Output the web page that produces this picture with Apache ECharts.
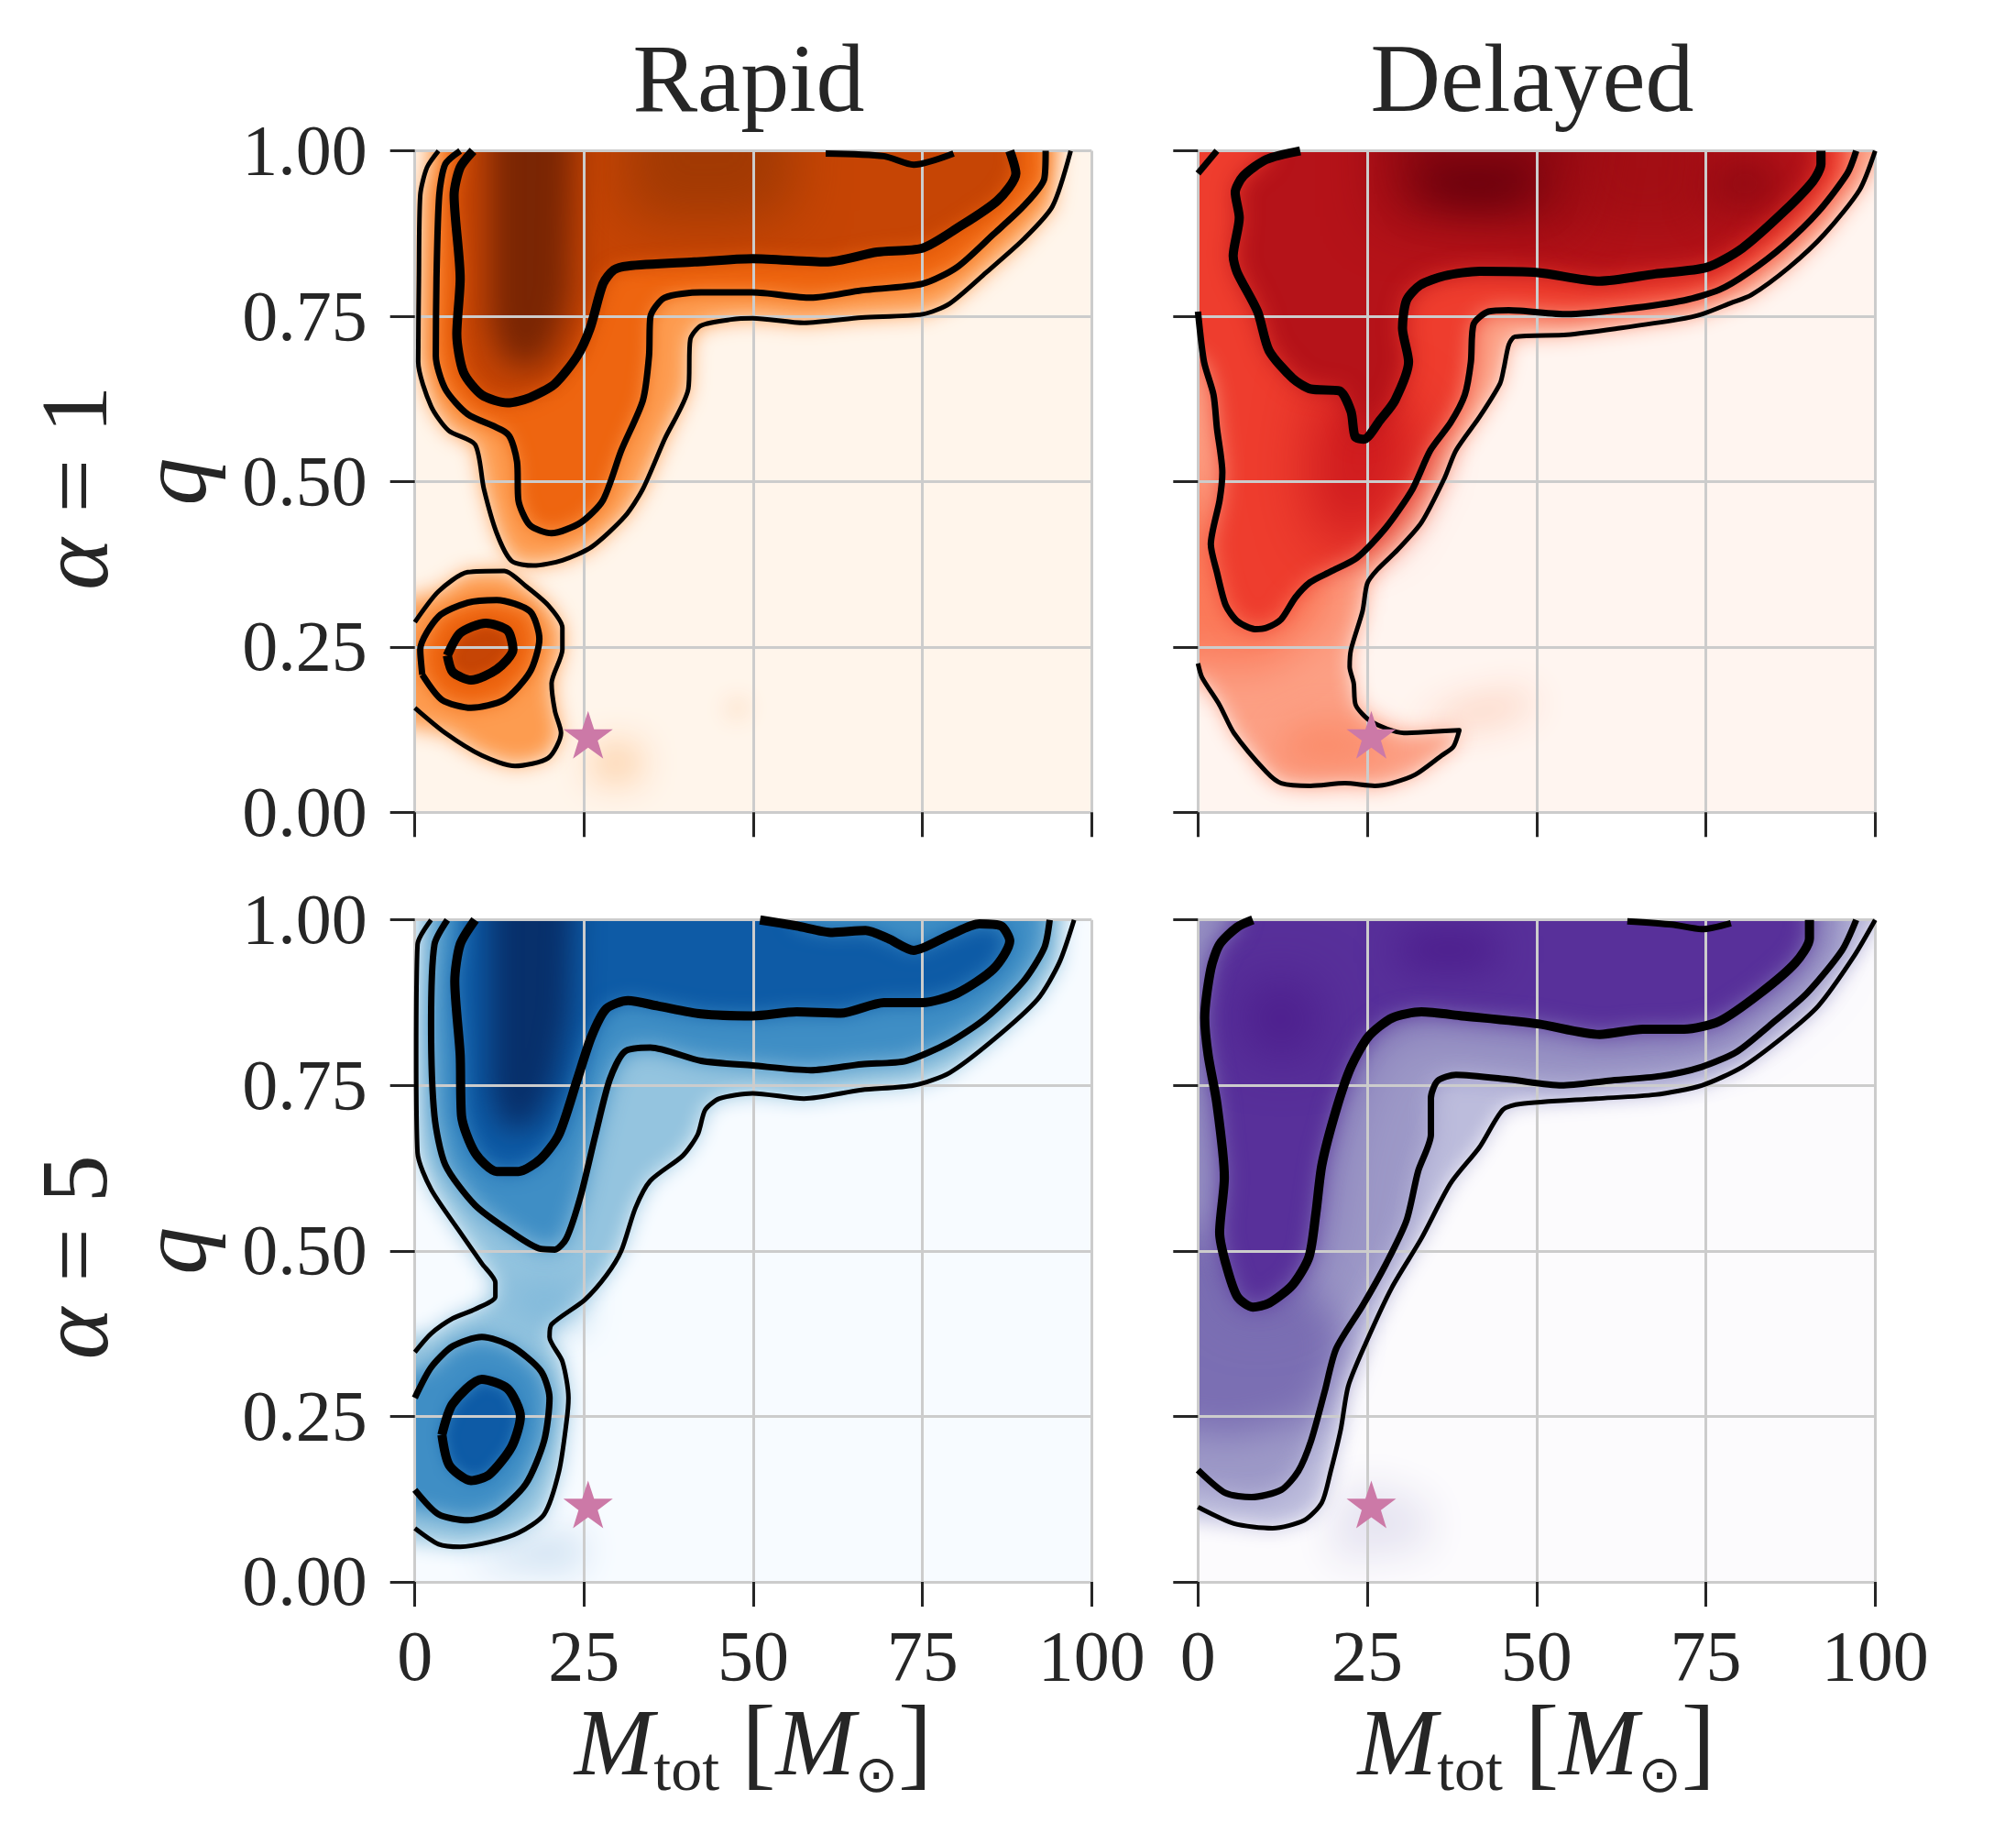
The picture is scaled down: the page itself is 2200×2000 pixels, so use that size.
<!DOCTYPE html>
<html><head><meta charset="utf-8"><style>html,body{margin:0;padding:0;background:#fff}#c{width:2200px;height:2000px}</style>
<script src="https://cdn.jsdelivr.net/npm/echarts@6/dist/echarts.min.js"></script></head><body><div id="c"></div>
<script>
// ---- axes and labels
const massTicks = [0, 25, 50, 75, 100];
const ratioTicks = [0, 0.25, 0.5, 0.75, 1];
const columnTitles = ['Rapid', 'Delayed'];
const rowLabels = ['1', '5'];
const starPoint = [25.6, 0.117];
const topLeft = [[0,1]];

// ---- contours: [Mtot, q]
const r1Outer = [[3.5,1],[1.8,.975],[.8,.933],[.6,.807],[.5,.681],[2.4,.614],[5,.577],[8.9,.556],[10.2,.489],[12.1,.422],[14.3,.38],[17.5,.373],[21.8,.381],[26.1,.401],[31,.447],[33.7,.489],[36.9,.564],[40.4,.64],[40.7,.715],[42.3,.736],[46.7,.745],[49.9,.747],[57.5,.74],[66,.748],[75,.753],[79,.769],[84.4,.816],[89.9,.866],[94.2,.916],[96.9,1]];
const r1Mid = [[6.7,1],[4.5,.98],[3.6,.933],[3.2,.807],[3.1,.69],[4.5,.64],[7.8,.602],[13.7,.572],[15.1,.53],[15.3,.472],[17,.434],[20.2,.422],[24.5,.438],[27.8,.472],[30.5,.547],[33.7,.623],[34.6,.69],[34.8,.749],[36.9,.778],[42.3,.786],[49.9,.786],[58.5,.778],[66,.789],[75,.799],[80.1,.824],[85.5,.874],[89.9,.916],[93,.958],[93.2,1]];
const r1Thick = [[8.6,1],[6.7,.975],[5.8,.933],[6.7,.807],[6.2,.723],[7.2,.665],[9.9,.631],[13.7,.619],[17,.627],[20.7,.648],[24,.69],[25.9,.732],[27.8,.799],[29.4,.82],[31.5,.826],[41.3,.832],[49.9,.837],[60.7,.832],[68.3,.847],[75,.853],[80.1,.883],[86.1,.925],[88.8,.966],[87.9,1]];
const r1TopPatch = [[60.7,.996],[69.3,.992],[73.7,.979],[79.6,.996]];
const r1LowOuter = [[0,.2875],[3.5,.334],[7.8,.363],[13.2,.365],[16.4,.342],[19.7,.313],[21.8,.279],[21.8,.246],[20.2,.195],[20.7,.153],[21.6,.12],[19.7,.082],[14.8,.07],[9.9,.086],[4.5,.12],[0,.158]];
const r1LowMid = [[1.1,.208],[.8,.246],[3.5,.296],[7.8,.317],[12.1,.321],[17,.304],[18.4,.262],[17,.212],[13.2,.17],[8.3,.158],[4,.17],[1.1,.208]];
const r1LowThick = [[4.8,.237],[6.7,.271],[10.5,.286],[13.7,.275],[14.5,.246],[12.1,.216],[8.3,.2],[5.6,.212],[4.8,.237]];

const d1Outer = [[100,1],[97.7,.941],[92.5,.874],[87.3,.824],[81.7,.782],[78.7,.77],[74.4,.753],[70.9,.745],[62.3,.732],[54.5,.722],[46.8,.719],[45.9,.707],[45.2,.673],[44.6,.648],[41.6,.598],[38.1,.547],[36.4,.505],[33,.438],[29.5,.397],[26.5,.367],[25,.346],[24.3,.304],[22.6,.246],[22.4,.22],[23,.195],[23.3,.162],[25.6,.137],[30.4,.12],[34.7,.122],[38.6,.124],[37.7,.099],[36,.086],[32.1,.057],[28.6,.044],[26.1,.04],[21.7,.044],[16.6,.04],[12.3,.044],[10.1,.061],[5.3,.12],[3.2,.162],[.6,.204],[0,.225]];
const d1Mid = [[97.2,1],[95.9,.966],[91.6,.908],[86.5,.857],[81.3,.816],[77,.79],[71.8,.774],[63.2,.761],[54.5,.753],[45.9,.759],[42.9,.757],[40.7,.738],[40.3,.681],[39.4,.631],[37.3,.589],[34.3,.547],[31.7,.489],[27.8,.431],[23.5,.385],[19.6,.364],[16.6,.348],[14.4,.325],[12.3,.292],[10.1,.279],[8.4,.277],[5.8,.289],[4.1,.313],[2.8,.363],[1.9,.405],[3.2,.472],[3.6,.514],[2.8,.581],[2.3,.631],[.9,.681],[0,.757]];
const d1Thick = [[92,1],[92,.98],[90.8,.954],[86.5,.908],[80.4,.853],[75.2,.824],[67.5,.814],[59.3,.803],[50.2,.816],[41.6,.818],[36.4,.811],[32.8,.797],[30.8,.774],[30.2,.732],[31.1,.681],[29.1,.623],[26.9,.593],[24.5,.564],[23.2,.568],[22.6,.606],[20.9,.637],[16.6,.64],[14,.656],[10.5,.698],[8.8,.757],[5.8,.816],[5.2,.841],[6.1,.899],[5.5,.937],[6.7,.962],[10.1,.987],[15.1,1]];
const d1Corner = [[0,.966],[2.8,1]];

const r5Outer = [[2.4,1],[.4,.963],[.2,.796],[.4,.648],[2.4,.593],[6.7,.528],[9.9,.481],[11.9,.452],[11.9,.431],[8.9,.412],[5.6,.398],[2.4,.375],[0,.347]];
const r5OuterB = [[0,.081],[3.5,.057],[6.7,.053],[11,.06],[15.3,.074],[19.1,.102],[21.3,.167],[22.4,.241],[22.7,.278],[21.8,.333],[19.9,.37],[20.2,.389],[25.1,.426],[28.3,.463],[30.5,.5],[32.6,.565],[34.8,.606],[39.6,.644],[41.8,.676],[42.9,.713],[45,.73],[49.9,.738],[57.5,.73],[66,.743],[73.7,.75],[79,.769],[85.5,.819],[92,.88],[95.2,.935],[97.4,1]];
const r5Mid = [[4.8,1],[2.9,.963],[2.4,.843],[2.9,.704],[4.5,.63],[8.9,.569],[14.3,.528],[18.6,.503],[20.7,.502],[22.4,.519],[24.5,.583],[26.7,.676],[28.8,.759],[31,.801],[34.8,.807],[42.3,.787],[49.9,.78],[58.5,.773],[66,.782],[72.6,.787],[79,.815],[84.4,.852],[89.9,.907],[93,.958],[93.8,1]];
const r5LowMid = [[0,.278],[2.4,.324],[5.6,.356],[9.9,.37],[14.3,.356],[18.6,.319],[19.9,.278],[19.1,.213],[16.4,.148],[12.1,.106],[7.8,.093],[3.5,.102],[0,.139]];
const r5Thick = [[8.9,1],[6.7,.963],[5.9,.907],[6.7,.796],[6.9,.704],[8.9,.648],[12.1,.62],[15.3,.62],[18.6,.639],[21.3,.676],[24,.759],[26.1,.824],[28.3,.866],[31.5,.878],[35.9,.87],[42.3,.858],[49.9,.855],[56.4,.861],[62.9,.859],[69.3,.875],[75,.875],[80.1,.889],[85.5,.926],[87.9,.968],[86.6,.991],[83.4,.994],[79,.977],[73.7,.954],[69.9,.972],[66.6,.984],[61.7,.981],[56.4,.991],[51,1]];
const r5LowThick = [[4,.222],[5.6,.269],[9.9,.306],[13.7,.292],[15.6,.25],[14.3,.204],[11,.162],[8.3,.153],[5.1,.176],[4,.222]];

const d5Outer = [[100,1],[96.8,.944],[91.6,.87],[86.5,.824],[80.4,.778],[74.4,.75],[67.5,.736],[58.8,.73],[47.6,.722],[45,.713],[41.6,.657],[37.3,.602],[33,.519],[28.6,.444],[24.8,.361],[22.2,.296],[21.1,.231],[19.6,.167],[18.3,.12],[15.7,.093],[11,.081],[5.3,.088],[0,.113]];
const d5Mid = [[97.2,1],[95.1,.954],[89.9,.889],[84.7,.843],[79.6,.801],[74.4,.778],[68.3,.764],[60.6,.757],[53.7,.75],[45.9,.759],[38.1,.766],[35.4,.757],[34.4,.731],[34.4,.676],[32.5,.62],[30.8,.546],[27.8,.481],[24.3,.417],[20.4,.352],[18.7,.287],[16.7,.213],[14.8,.167],[12.3,.139],[7.9,.128],[4.1,.134],[0,.169]];
const d5Thick = [[90.3,1],[90.3,.972],[88.2,.935],[83,.889],[77,.847],[71.8,.835],[65.7,.835],[59.3,.827],[50.2,.843],[39,.855],[33,.861],[28.7,.852],[25.2,.824],[22.6,.778],[20.4,.713],[18.3,.63],[17.4,.556],[16.4,.491],[14,.449],[10.5,.421],[8.1,.415],[5.8,.431],[4.1,.481],[3.2,.528],[3.9,.611],[2.8,.722],[1.5,.796],[1,.852],[1.9,.926],[3.2,.963],[5.8,.989],[8.1,1]];
const d5TopPatch = [[63.4,.998],[70,.993],[74.4,.986],[78.7,.995]];

// ---- soft density features inside and outside the contours
const r1Core = [[11,1],[11,.74],[13,.68],[18,.67],[21,.71],[23,.78],[24,1]];
const r1Shelf = [[31,1],[31,.9],[45,.89],[56,.91],[56,1]];
const r1BlobA = [[26,.05],[33,.05],[33,.1],[27,.1]];
const r1BlobB = [[46,.145],[49,.145],[49,.17],[46.5,.17]];
const d1PeakA = [[33,.98],[33,.93],[42,.915],[50,.935],[49,.98]];
const d1PeakWide = [[27,1],[27,.9],[55,.88],[60,1]];
const d1PeakB = [[76,.98],[76,.92],[84,.92],[87,.96],[84,.98]];
const d1Band = [[55,1],[55,.88],[76,.87],[76,1]];
const d1Body = [[18,.65],[30,.62],[33,.55],[27,.43],[19,.4],[16,.5]];
const d1Shoulder = [[0,.7],[0,.24],[10,.22],[20,.3],[20,.36],[5,.4]];
const d1Tail = [[32,.125],[42,.135],[50,.16],[48,.18],[38,.16]];
const d1Low = [[12,.07],[26,.07],[27,.115],[18,.14],[12,.11]];
const r5Core = [[11,1],[11,.74],[13,.68],[18,.69],[21,.76],[23,.86],[24,1]];
const r5Tail = [[8,.03],[24,.02],[25,.07],[14,.06]];
const r5Neck = [[13,.45],[24,.45],[24,.39],[15,.4]];
const d5PeakA = [[7,.9],[17,.9],[17,.8],[8,.8]];
const d5PeakB = [[30,.98],[44,.98],[44,.93],[30,.93]];
const d5Tail = [[20,.03],[34,.05],[34,.12],[25,.15],[20,.12]];
const d5Body = [[0,.6],[16,.45],[22,.37],[17,.25],[5,.22],[0,.25]];

// ---- style tables
const panels = [
 {row:0,col:0,bg:'#fff5eb',
  fills:[[r1Outer,'#fd9c50',22],[r1LowOuter,'#fd9c50',22],[r1BlobA,'#fdc99a',40],[r1BlobB,'#fbdcc0',24],[r1Mid,'#ee6510',20],[r1LowMid,'#ee6510',20],[r1Thick,'#c64505',20],[r1LowThick,'#c64505',14],[r1Shelf,'#a23a04',60],[r1Core,'#7a2604',34]],
  lines:[[r1Outer,5],[r1LowOuter,5],[r1Mid,7],[r1LowMid,7],[r1Thick,10],[r1LowThick,10],[r1TopPatch,7]]},
 {row:0,col:1,bg:'#fff5f0',
  fills:[[d1Tail,'#fbc8b2',40],[d1Outer.concat(topLeft),'#fca085',22],[d1Low,'#fb8a68',40],[d1Shoulder,'#fb7a5a',50],[d1Mid.concat(topLeft),'#ee3d2e',24],[d1Body,'#cf1c1f',60],[d1Thick,'#b51319',26],[d1Band,'#a30f15',60],[d1PeakWide,'#8e0912',60],[d1PeakB,'#830610',50],[d1PeakA,'#67000d',44]],
  lines:[[d1Outer,5],[d1Mid,7],[d1Thick,10],[d1Corner,7]]},
 {row:1,col:0,bg:'#f7fbff',
  fills:[[r5Tail,'#c4daee',40],[r5Outer.concat(r5OuterB),'#94c4df',22],[r5Neck,'#7fb8da',40],[r5Mid,'#3f8ec5',24],[r5LowMid,'#3f8ec5',22],[r5Thick,'#0e5ba6',22],[r5LowThick,'#0e5ba6',16],[r5Core,'#08306b',32]],
  lines:[[r5Outer,5],[r5OuterB,5],[r5Mid,7],[r5LowMid,7],[r5Thick,10],[r5LowThick,10]]},
 {row:1,col:1,bg:'#fcfbfd',
  fills:[[d5Tail,'#e6e4f1',44],[d5Outer.concat(topLeft),'#bcbcdc',22],[d5Mid.concat(topLeft),'#9d99c7',26],[d5Body,'#7b6fb3',40],[d5Thick,'#7363ad',70],[d5Thick,'#58309a',24],[d5PeakA,'#4a1a8a',60],[d5PeakB,'#4a1a8a',44]],
  lines:[[d5Outer,5],[d5Mid,7],[d5Thick,10],[d5TopPatch,7]]}
];
const colLeft = [452.7, 1307.3], colWidth = [738.6, 739];
const rowTop = [164.6, 1003.7], rowHeight = [721.7, 722.3];
const titleCentre = [812, 1667];
const FONT = '"Liberation Serif", serif', INK = '#262626', GRIDC = '#cccccc';
const OFF = 5000;

function overshoot(poly){return poly.map(([x,q])=>[x<=0?-15:x>=100?115:x, q>=1?1.2:q]);}

const grids=[],xAxes=[],yAxes=[],series=[],titles=[],graphics=[];
panels.forEach((p,i)=>{
  grids.push({show:true,left:colLeft[p.col],top:rowTop[p.row],width:colWidth[p.col],height:rowHeight[p.row],backgroundColor:p.bg,borderWidth:0});
  xAxes.push({type:'value',gridIndex:i,min:massTicks[0],max:massTicks[4],interval:25,z:3,
    axisLine:{show:false},axisTick:{show:true,length:27,lineStyle:{color:INK,width:3}},
    splitLine:{show:true,lineStyle:{color:GRIDC,width:3}},
    axisLabel:{show:p.row===1,margin:48,fontFamily:FONT,fontSize:78,color:INK,hideOverlap:false},
    name:p.row===1?'{m|M}{s|tot}{g| }{b|[}{m|M}{o|⊙}{b|]}':'',nameLocation:'middle',nameGap:107,
    nameTextStyle:{rich:{m:{fontFamily:FONT,fontStyle:'italic',fontSize:104,color:INK,lineHeight:120,verticalAlign:'middle'},
      s:{fontFamily:FONT,fontSize:68,color:INK,lineHeight:120,verticalAlign:'bottom'},
      g:{fontFamily:FONT,fontSize:50,color:INK,lineHeight:120,verticalAlign:'middle',width:24},
      b:{fontFamily:FONT,fontSize:112,fontWeight:200,color:INK,lineHeight:120,verticalAlign:'middle'},
      o:{fontFamily:'"DejaVu Sans"',fontSize:56,color:INK,lineHeight:120,verticalAlign:'bottom'}}}});
  yAxes.push({type:'value',gridIndex:i,min:ratioTicks[0],max:ratioTicks[4],interval:.25,z:3,
    axisLine:{show:false},axisTick:{show:true,length:27,lineStyle:{color:INK,width:3}},
    splitLine:{show:true,lineStyle:{color:GRIDC,width:3}},
    axisLabel:{show:p.col===0,margin:52,fontFamily:FONT,fontSize:78,color:INK,verticalAlign:'top',lineHeight:10,formatter:v=>v.toFixed(2)},
    name:p.col===0?'q':'',nameLocation:'middle',nameRotate:90,nameGap:204,
    nameTextStyle:{fontFamily:FONT,fontStyle:'italic',fontSize:104,color:INK}});
  p.fills.forEach(([poly,color,blur])=>{
    const data=overshoot(poly);
    series.push({type:'custom',coordinateSystem:'cartesian2d',xAxisIndex:i,yAxisIndex:i,clip:true,silent:true,z:2,animation:false,
      data,encode:{x:0,y:1},
      renderItem:(params,api)=>{
        if(params.dataIndex!==0) return null;
        return {type:'polygon',shape:{points:data.map(d=>{const c=api.coord(d);return [c[0]-OFF,c[1]];})},
          style:{fill:color,shadowColor:color,shadowBlur:blur,shadowOffsetX:OFF}};
      }});
  });
  p.lines.forEach(([pts,w])=>{
    series.push({type:'line',xAxisIndex:i,yAxisIndex:i,data:pts,symbol:'none',smooth:.25,z:4,silent:true,animation:false,
      lineStyle:{color:'#000',width:w,join:'round'}});
  });
  series.push({type:'scatter',xAxisIndex:i,yAxisIndex:i,data:[starPoint],z:5,silent:true,animation:false,
    symbol:'path://M50 0 L61.8 35.5 L99 35.5 L69 57.5 L80 93 L50 71.5 L20 93 L31 57.5 L1 35.5 L38.2 35.5 Z',
    symbolSize:[54,52],itemStyle:{color:'#cc79a7',opacity:1}});
});
columnTitles.forEach((t,c)=>titles.push({text:t,left:titleCentre[c],top:35,textAlign:'center',
  textStyle:{fontFamily:FONT,fontWeight:'normal',fontSize:106,color:INK}}));
rowLabels.forEach((t,r)=>graphics.push({type:'text',x:89,y:rowTop[r]+rowHeight[r]/2+7,rotation:Math.PI/2,
  style:{text:'{a|α}{g| }{b|=}{g| }{b|'+t+'}',align:'center',verticalAlign:'middle',
    rich:{a:{fontFamily:FONT,fontStyle:'italic',fontSize:108,fill:INK},b:{fontFamily:FONT,fontSize:104,fill:INK},g:{fontFamily:FONT,fontSize:50,width:28}}}}));

echarts.init(document.getElementById('c'),null,{renderer:'canvas'}).setOption({
  animation:false,backgroundColor:'#fff',title:titles,grid:grids,xAxis:xAxes,yAxis:yAxes,series,graphic:graphics});
</script></body></html>
